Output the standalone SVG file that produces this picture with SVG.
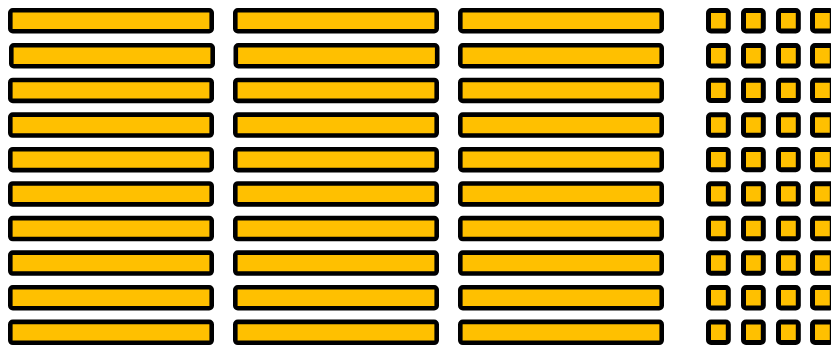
<svg xmlns="http://www.w3.org/2000/svg" xmlns:xlink="http://www.w3.org/1999/xlink" width="831" height="348" viewBox="0 0 831 348">
<style>
.n{fill:#FFC000;stroke:#000;stroke-linejoin:round}
.b{stroke-width:4.6}
.s{stroke-width:5}
</style>
<defs>
<rect id="bar" class="n b" x="0" y="0" width="201.4" height="20.9" rx="2.5"/>
<rect id="sq" class="n s" x="0" y="0" width="19.8" height="20.4" rx="2.5"/>
</defs>
<rect width="831" height="348" fill="#fff"/>
<g id="bars">
<g id="b0"><use href="#bar" x="10.3" y="10.3"/><use href="#bar" x="235.3" y="10.3"/><use href="#bar" x="460.3" y="10.3"/></g>
<g id="b1"><use href="#bar" x="11.3" y="45.3"/><use href="#bar" x="235.8" y="45.3"/><use href="#bar" x="460.3" y="45.3"/></g>
<g id="b2"><use href="#bar" x="10.3" y="80.0"/><use href="#bar" x="235.3" y="80.0"/><use href="#bar" x="460.3" y="80.0"/></g>
<g id="b3"><use href="#bar" x="10.3" y="114.6"/><use href="#bar" x="235.3" y="114.6"/><use href="#bar" x="460.3" y="114.6"/></g>
<g id="b4"><use href="#bar" x="10.3" y="149.2"/><use href="#bar" x="235.3" y="149.2"/><use href="#bar" x="460.3" y="149.2"/></g>
<g id="b5"><use href="#bar" x="10.3" y="183.5"/><use href="#bar" x="235.3" y="183.5"/><use href="#bar" x="460.3" y="183.5"/></g>
<g id="b6"><use href="#bar" x="10.3" y="218.1"/><use href="#bar" x="235.3" y="218.1"/><use href="#bar" x="460.3" y="218.1"/></g>
<g id="b7"><use href="#bar" x="10.3" y="252.6"/><use href="#bar" x="235.3" y="252.6"/><use href="#bar" x="460.3" y="252.6"/></g>
<g id="b8"><use href="#bar" x="10.3" y="287.3"/><use href="#bar" x="235.3" y="287.3"/><use href="#bar" x="460.3" y="287.3"/></g>
<g id="b9"><use href="#bar" x="10.3" y="321.9"/><use href="#bar" x="235.3" y="321.9"/><use href="#bar" x="460.3" y="321.9"/></g>
</g>
<g id="squares">
<g id="s0"><use href="#sq" x="708.5" y="10.5"/><use href="#sq" x="743.5" y="10.5"/><use href="#sq" x="778.5" y="10.5"/><use href="#sq" x="812.5" y="10.5"/></g>
<g id="s1"><use href="#sq" x="708.5" y="45.5"/><use href="#sq" x="743.5" y="45.5"/><use href="#sq" x="778.5" y="45.5"/><use href="#sq" x="812.5" y="45.5"/></g>
<g id="s2"><use href="#sq" x="708.5" y="80.2"/><use href="#sq" x="743.5" y="80.2"/><use href="#sq" x="778.5" y="80.2"/><use href="#sq" x="812.5" y="80.2"/></g>
<g id="s3"><use href="#sq" x="708.5" y="114.8"/><use href="#sq" x="743.5" y="114.8"/><use href="#sq" x="778.5" y="114.8"/><use href="#sq" x="812.5" y="114.8"/></g>
<g id="s4"><use href="#sq" x="708.5" y="149.4"/><use href="#sq" x="743.5" y="149.4"/><use href="#sq" x="778.5" y="149.4"/><use href="#sq" x="812.5" y="149.4"/></g>
<g id="s5"><use href="#sq" x="708.5" y="183.7"/><use href="#sq" x="743.5" y="183.7"/><use href="#sq" x="778.5" y="183.7"/><use href="#sq" x="812.5" y="183.7"/></g>
<g id="s6"><use href="#sq" x="708.5" y="218.3"/><use href="#sq" x="743.5" y="218.3"/><use href="#sq" x="778.5" y="218.3"/><use href="#sq" x="812.5" y="218.3"/></g>
<g id="s7"><use href="#sq" x="708.5" y="252.8"/><use href="#sq" x="743.5" y="252.8"/><use href="#sq" x="778.5" y="252.8"/><use href="#sq" x="812.5" y="252.8"/></g>
<g id="s8"><use href="#sq" x="708.5" y="287.5"/><use href="#sq" x="743.5" y="287.5"/><use href="#sq" x="778.5" y="287.5"/><use href="#sq" x="812.5" y="287.5"/></g>
<g id="s9"><use href="#sq" x="708.5" y="322.1"/><use href="#sq" x="743.5" y="322.1"/><use href="#sq" x="778.5" y="322.1"/><use href="#sq" x="812.5" y="322.1"/></g>
</g>
<g id="connectors"/>
</svg>
